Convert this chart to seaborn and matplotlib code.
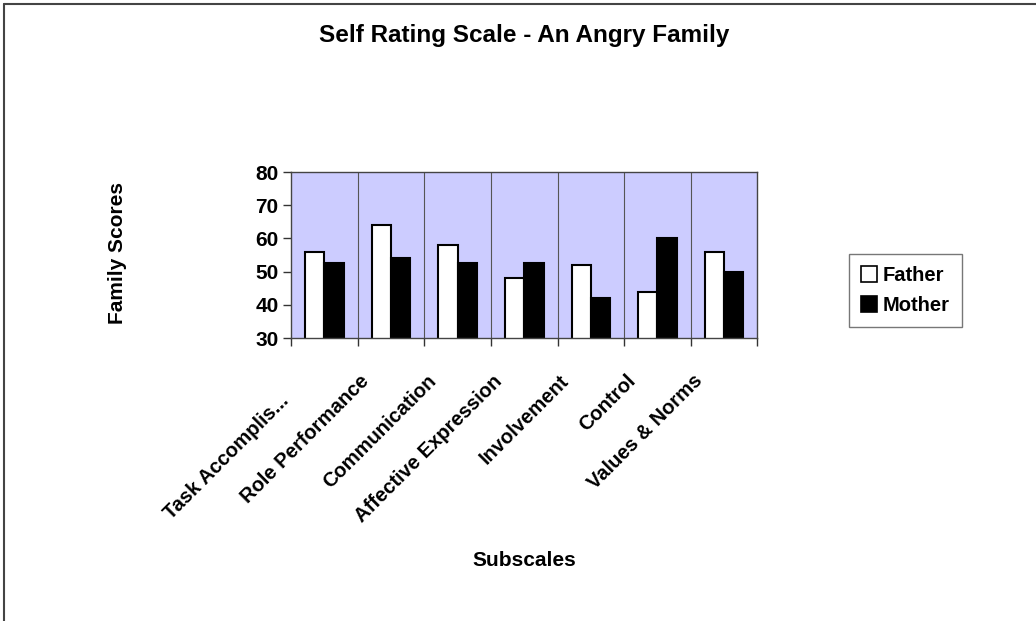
import matplotlib
matplotlib.use("Agg")
import matplotlib.pyplot as plt
import matplotlib.transforms as mtransforms
from matplotlib.lines import Line2D
from matplotlib.patches import Patch
import numpy as np
import pandas as pd
import seaborn as sns

# Data
subscales = [
    "Task Accomplis...",
    "Role Performance",
    "Communication",
    "Affective Expression",
    "Involvement",
    "Control",
    "Values & Norms",
]
father = [56, 64, 58, 48, 52, 44, 56]
mother = [52.5, 54, 52.5, 52.5, 42, 60, 50]
series_names = ["Father", "Mother"]

df = pd.DataFrame({
    "Subscale": subscales * 2,
    "Member": [series_names[0]] * len(subscales) + [series_names[1]] * len(subscales),
    "Score": father + mother,
})

sns.set_theme(style="white")
plt.rcParams["font.family"] = ["Liberation Sans", "DejaVu Sans"]
plt.rcParams["font.weight"] = "bold"
for key in ["text.color", "axes.labelcolor", "xtick.color", "ytick.color"]:
    plt.rcParams[key] = "black"

fig = plt.figure(figsize=(10.36, 6.21), dpi=100)
ax = fig.add_axes([0.281, 0.4557, 0.450, 0.2673])
ax.set_facecolor("#CCCCFF")

sns.barplot(
    data=df, x="Subscale", y="Score", hue="Member",
    palette={"Father": "white", "Mother": "black"},
    edgecolor="black", linewidth=1.5, width=0.58,
    ax=ax, legend=False,
)

ax.set_ylim(30, 80)
ax.set_yticks(np.arange(30, 81, 10))
ax.set_xlim(-0.5, len(subscales) - 0.5)

# category separators + ticks at boundaries
bounds = np.arange(-0.5, len(subscales), 1.0)
for b in bounds[1:-1]:
    ax.axvline(b, color="#555555", lw=0.8, zorder=0.5)
ax.set_xticks(bounds, minor=True)
ax.tick_params(axis="x", which="minor", length=6, width=1, color="#333333", direction="out", bottom=True)
ax.tick_params(axis="x", which="major", length=0, pad=24, labelsize=14.5)
ax.tick_params(axis="y", which="major", length=6, width=1, color="#333333", direction="out", left=True, labelsize=15, pad=3)

for sp in ax.spines.values():
    sp.set_color("#444444")
    sp.set_linewidth(1.0)

# labels end a little left of the category centre; the truncated first one sits lower
for i, lbl in enumerate(ax.get_xticklabels()):
    dx, dy = (-0.32, -0.2) if i == 0 else (-0.18, 0)
    lbl.set_rotation(45)
    lbl.set_ha("right")
    lbl.set_va("top")
    lbl.set_fontweight("bold")
    lbl.set_transform(lbl.get_transform() + mtransforms.ScaledTranslation(dx, dy, fig.dpi_scale_trans))
for lbl in ax.get_yticklabels():
    lbl.set_fontweight("bold")

ax.set_xlabel("")
ax.set_ylabel("")
fig.text(0.506, 0.943, "Self Rating Scale - An Angry Family", ha="center", va="center",
         fontsize=17.5, fontweight="bold")
fig.text(0.113, 0.593, "Family Scores", ha="center", va="center", rotation=90,
         fontsize=15, fontweight="bold")
fig.text(0.506, 0.097, "Subscales", ha="center", va="center",
         fontsize=15, fontweight="bold")

handles = [Patch(facecolor="white", edgecolor="black", linewidth=1.2),
           Patch(facecolor="black", edgecolor="black", linewidth=1.2)]
leg = fig.legend(handles, series_names, loc="center", bbox_to_anchor=(0.874, 0.532),
                 frameon=True, fancybox=False, fontsize=14.5, handlelength=0.8,
                 handleheight=0.8, handletextpad=0.3, borderpad=0.6, labelspacing=0.55)
leg.get_frame().set_edgecolor("#555555")
leg.get_frame().set_linewidth(1.0)
for t in leg.get_texts():
    t.set_fontweight("bold")

# figure border lines (top and left)
fig.add_artist(Line2D([0.004, 1.0], [0.993, 0.993], transform=fig.transFigure, color="#444444", lw=1.5))
fig.add_artist(Line2D([0.004, 0.004], [0.0, 0.993], transform=fig.transFigure, color="#444444", lw=1.5))

fig.savefig("out.png", dpi=100)
